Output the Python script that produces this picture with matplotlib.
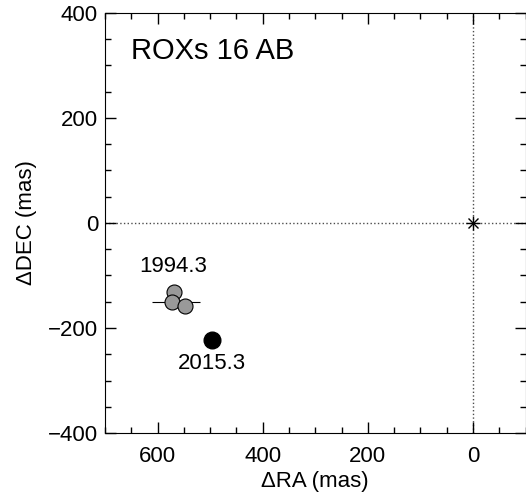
import numpy as np
import matplotlib
matplotlib.use('Agg')
from matplotlib import pyplot as plt
from matplotlib.ticker import MultipleLocator

plt.rcParams['font.family'] = ['Liberation Sans', 'DejaVu Sans']

# early epochs (gray) and latest epoch (black), offsets in mas
old_ra = [568, 572, 548]
old_dec = [-131, -151, -158]
err_ra_lo = [0, 52, 0]   # toward smaller RA
err_ra_hi = [0, 38, 0]   # toward larger RA
new_ra = [497]
new_dec = [-223]
epoch_labels = ['1994.3', '2015.3']
label_ra = [571, 496]
label_dec = [-83, -267]

fig = plt.figure(figsize=(5.26, 4.94), dpi=100)
ax = fig.add_axes([105 / 526, 1 - 433 / 494, 420.5 / 526, 420 / 494])

ax.axhline(0, color='0.3', ls=':', lw=1, zorder=1)
ax.axvline(0, color='0.3', ls=':', lw=1, zorder=1)
ax.plot([0], [0], marker='+', ms=10, mew=1, color='k', ls='none')
ax.plot([0], [0], marker='x', ms=7, mew=1, color='k', ls='none')

ax.errorbar(old_ra, old_dec, xerr=[err_ra_lo, err_ra_hi], fmt='none',
            ecolor='k', elinewidth=0.8, capsize=0, zorder=2)
ax.plot(old_ra, old_dec, 'o', ms=10.8, mfc='#999999', mec='k', mew=0.8,
        ls='none', zorder=3)
ax.plot(new_ra, new_dec, 'o', ms=12, mfc='k', mec='k', ls='none', zorder=3)

for t, x, y in zip(epoch_labels, label_ra, label_dec):
    ax.text(x, y, t, fontsize=16, ha='center', va='center')

ax.text(650, 328, 'ROXs 16 AB', fontsize=21, ha='left', va='center')

ax.set_xlim(700, -100)
ax.set_ylim(-400, 400)
ax.xaxis.set_major_locator(MultipleLocator(200))
ax.xaxis.set_minor_locator(MultipleLocator(50))
ax.yaxis.set_major_locator(MultipleLocator(200))
ax.yaxis.set_minor_locator(MultipleLocator(50))
ax.tick_params(which='both', direction='in', top=True, right=True, labelsize=16)
ax.tick_params(which='major', length=8, width=1)
ax.tick_params(which='minor', length=4, width=1)
ax.tick_params(axis='x', which='major', pad=9)
ax.tick_params(axis='y', which='major', pad=5)
ax.set_xlabel('ΔRA (mas)', fontsize=16, labelpad=3)
ax.set_ylabel('ΔDEC (mas)', fontsize=16, labelpad=8)

fig.savefig('out.png', dpi=100)
